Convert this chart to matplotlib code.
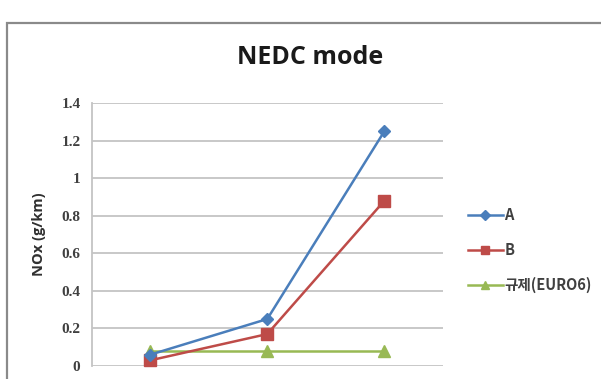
import matplotlib
matplotlib.use("Agg")
import matplotlib.pyplot as plt
from matplotlib.patches import Rectangle

# --- Data ---
CATEGORIES = ["1", "2", "3"]
SERIES_A = [0.06, 0.25, 1.25]
SERIES_B = [0.03, 0.17, 0.88]
SERIES_LIMIT = [0.08, 0.08, 0.08]
SERIES_NAMES = ["A", "B", "규제(EURO6)"]
Y_TICKS = [0, 0.2, 0.4, 0.6, 0.8, 1.0, 1.2, 1.4]
Y_TICK_LABELS = ["0", "0.2", "0.4", "0.6", "0.8", "1", "1.2", "1.4"]

COLOR_A = "#4A7EBB"
COLOR_B = "#BE4B48"
COLOR_LIMIT = "#98B954"
GRID = "#C4C4C4"

W, H = 601, 379

fig = plt.figure(figsize=(W / 100, H / 100), dpi=100)

# outer chart frame (cut off at right and bottom in the reference)
fig.patches.append(Rectangle((7 / W, -0.1), 1.2, (H - 23) / H + 0.1,
                             transform=fig.transFigure, fill=False,
                             edgecolor="#8A8A8A", linewidth=1.6))

ax = fig.add_axes([91.5 / W, 13 / H, 351.5 / W, 263 / H])
x = list(range(len(CATEGORIES)))

ax.plot(x, SERIES_A, color=COLOR_A, lw=1.8, marker="D", ms=6,
        label=SERIES_NAMES[0], clip_on=False, zorder=4)
ax.plot(x, SERIES_B, color=COLOR_B, lw=1.8, marker="s", ms=8,
        label=SERIES_NAMES[1], clip_on=False, zorder=3)
ax.plot(x, SERIES_LIMIT, color=COLOR_LIMIT, lw=1.8, marker="^", ms=8,
        label=SERIES_NAMES[2], clip_on=False, zorder=2)

ax.set_xlim(-0.5, len(CATEGORIES) - 0.5)
ax.set_ylim(0, 1.4)
ax.set_yticks(Y_TICKS)
ax.set_yticklabels(Y_TICK_LABELS, family="Liberation Serif",
                   fontweight="bold", fontsize=11, color="#404040")
ax.set_xticks([])
ax.tick_params(axis="y", length=0, pad=8)
ax.grid(axis="y", color=GRID, linewidth=1.3)
ax.set_axisbelow(True)
for s in ["top", "right", "bottom"]:
    ax.spines[s].set_visible(False)
ax.spines["left"].set_color(GRID)
ax.spines["left"].set_linewidth(1.3)

ax.set_ylabel("NOx (g/km)", fontsize=10.5, fontweight="bold",
              family="Open Sans", color="#303030")
ax.yaxis.set_label_coords(-46 / 351.5, 0.5)

fig.text(310 / W, 1 - 57 / H, "NEDC mode", ha="center", va="center",
         fontsize=18, fontweight="bold", family="Open Sans", color="#1A1A1A")

leg = fig.legend(loc="upper left", bbox_to_anchor=(462 / W, 1 - 201 / H),
                 frameon=False, handlelength=2.4, handletextpad=0.1,
                 labelspacing=1.3, borderaxespad=0, markerscale=0.8,
                 prop={"family": ["Noto Sans CJK KR", "DejaVu Sans"],
                       "size": 10.5, "weight": "bold"})
for t in leg.get_texts():
    t.set_color("#404040")

fig.savefig("out.png", dpi=100)
